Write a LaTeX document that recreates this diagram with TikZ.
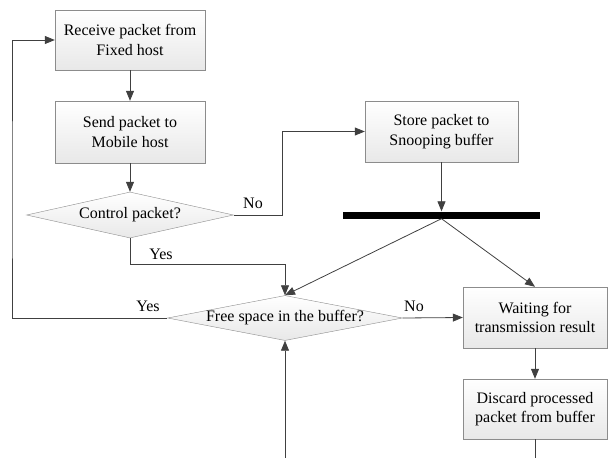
\documentclass[tikz,border=0pt]{standalone}
\usepackage{fontspec}
\setmainfont{Liberation Serif}
\usetikzlibrary{shapes.geometric,arrows.meta,shadows}
\definecolor{linec}{HTML}{404040}
\definecolor{bordc}{HTML}{8C8C8C}
\begin{document}
\begin{tikzpicture}[x=1pt,y=-1pt,
  every node/.style={font=\rmfamily\fontsize{16}{19.5}\selectfont, text=black},
  procbox/.style={rectangle, draw=bordc, top color=white, bottom color=gray!18, align=center, inner sep=0pt,
    drop shadow={shadow xshift=1.2pt, shadow yshift=-1.2pt, fill=gray!35}},
  decbox/.style={diamond, draw=bordc, top color=white, bottom color=gray!18, align=center, inner sep=0pt},
  conn/.style={draw=linec, line width=0.8pt},
  arr/.style={conn, -{Triangle[length=10pt,width=8pt]}},
  lbl/.style={inner sep=0pt}
]
\useasboundingbox (0,0) rectangle (608,458);
\node[procbox, minimum width=150, minimum height=60] (recv) at (130,40) {Receive packet from\\Fixed host};
\node[procbox, minimum width=150, minimum height=62] (send) at (130,132) {Send packet to\\Mobile host};
\node[decbox, aspect=4.5, minimum width=207, minimum height=46] (ctrl) at (130,215) {Control packet?};
\node[procbox, minimum width=153, minimum height=61] (store) at (441.5,131.5) {Store packet to\\Snooping buffer};
\node[rectangle, fill=black, inner sep=0pt, minimum width=197, minimum height=7] (bar) at (441.5,215) {};
\node[decbox, aspect=5.2, minimum width=235, minimum height=45] (free) at (285,318) {Free space in the buffer?};
\node[procbox, minimum width=144, minimum height=61] (wait) at (535,317.5) {Waiting for\\transmission result};
\node[procbox, minimum width=144, minimum height=60] (disc) at (535,409) {Discard processed\\packet from buffer};

\coordinate (nj) at (282,131.5);
\coordinate (yj) at (285,264);
\coordinate (lp) at (12,200);
\coordinate (bin) at (285,458);
\coordinate (bout) at (535,458);

\draw[arr] (recv) -- (send);
\draw[arr] (send) -- (ctrl);
\draw[arr] (ctrl.east) -| (nj) -- (store.west);
\draw[arr] (store) -- (bar.north);
\draw[arr] (bar.south) -- (free.north);
\draw[arr] (bar.south) -- (wait.north);
\draw[arr] (ctrl.south) |- (yj) -- (free.north);
\draw[arr] (free.west) -| (lp) |- (recv.west);
\draw[arr] (free.east) -- (wait.west);
\draw[arr] (wait) -- (disc);
\draw[conn] (disc.south) -- (bout);
\draw[arr] (bin) -- (free.south);

\node[lbl] (l1) at (253,203) {No};
\node[lbl] (l2) at (161,254) {Yes};
\node[lbl] (l3) at (148,306) {Yes};
\node[lbl] (l4) at (414,306) {No};
\end{tikzpicture}
\end{document}
